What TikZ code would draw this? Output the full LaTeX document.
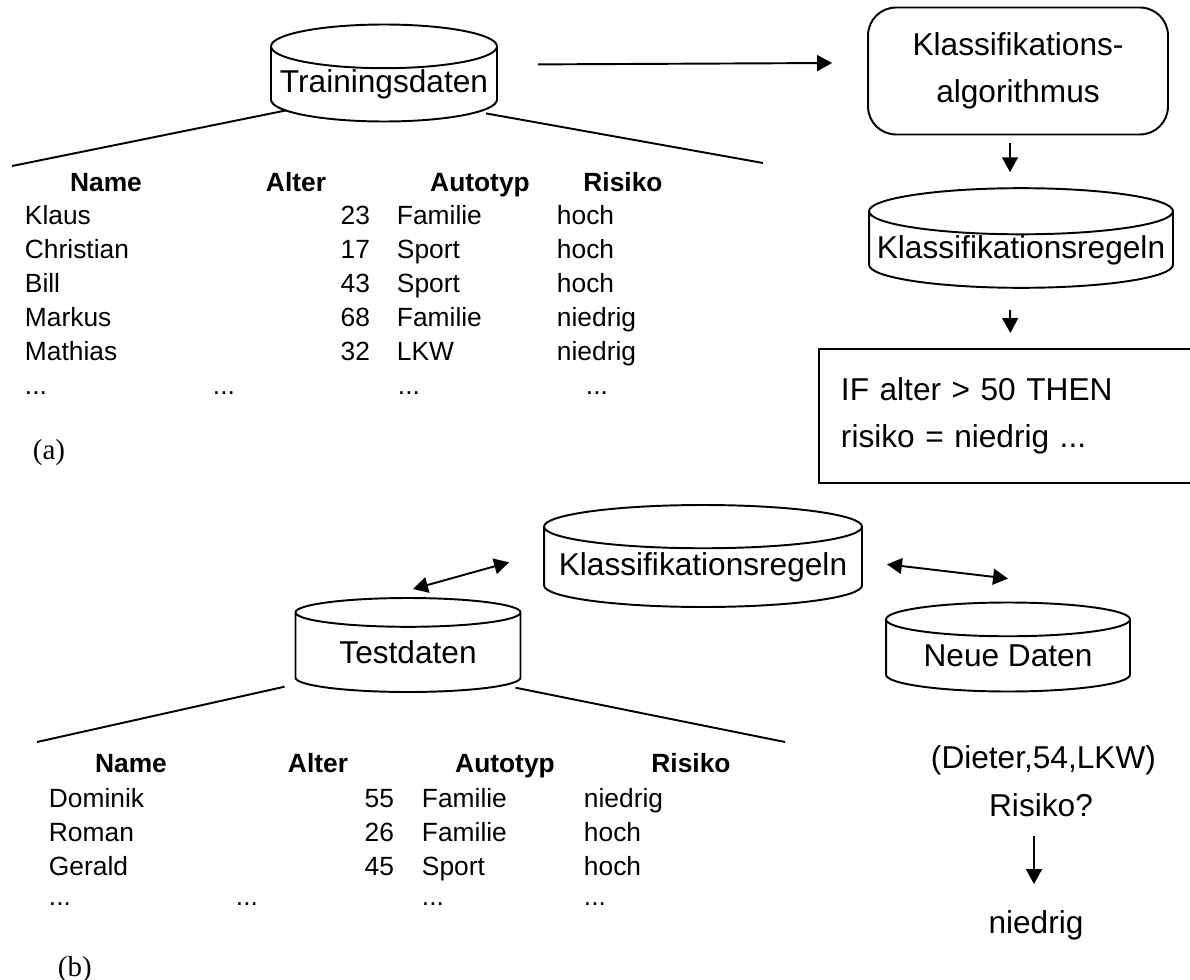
\documentclass[tikz,border=0pt]{standalone}
\usepackage{fontspec}
\setmainfont{Liberation Sans}
\newfontfamily\labelfont{Liberation Serif}
\usetikzlibrary{shapes.geometric,arrows.meta}

\newcommand\bigtext{\fontsize{18}{26.7}\selectfont}
\newcommand\tabtext{\fontsize{15}{19}\selectfont}

\begin{document}
\begin{tikzpicture}[x=0.02cm,y=-0.02cm,line width=1.1pt]
\tikzset{
  every node/.style={inner sep=0pt},
  db/.style={cylinder,shape border rotate=90,draw,font=\bigtext},
  cell/.style={font=\tabtext},
  head/.style={font=\tabtext\bfseries,anchor=base},
  arr/.style={-{Triangle[length=8.5pt,width=9pt]}},
  dbl/.style={{Triangle[length=8.5pt,width=9pt]}-{Triangle[length=8.5pt,width=9pt]}}
}
\useasboundingbox (0,0) rectangle (1190,980);

% (a) Lernphase
\node[db,anchor=shape center,minimum width=4.52cm,minimum height=1.94cm,aspect=0.21] (train) at (384,73) {Trainingsdaten};
\node[draw,rounded corners=0.56cm,minimum width=6cm,minimum height=2.54cm,align=center,font=\bigtext] (algo) at (1018,71) {Klassifikations-\\algorithmus};
\node[db,anchor=shape center,minimum width=6.08cm,minimum height=1.86cm,aspect=0.16] (rules) at (1021,238) {Klassifikationsregeln};
\node[anchor=north west,minimum width=7.62cm,minimum height=2.64cm,inner xsep=0.42cm,text width=6.78cm,align=left,font=\bigtext] (ifbox) at (819,349) {IF alter > 50 THEN\\risiko = niedrig ...};
\draw (ifbox.north east) -- (ifbox.north west) -- (ifbox.south west) -- (ifbox.south east);

\draw[arr] ([shift={(40,-20)}]train.east) -- ([shift={(-35,-8)}]algo.west);
\draw[arr] ([shift={(-8,8)}]algo.south) -- ([shift={(-11,-15)}]rules.north);
\draw[arr] ([shift={(-11,21)}]rules.south) -- ([shift={(0,-16)}]ifbox.north);

\coordinate (ta-left) at (12,166);
\coordinate (ta-right) at (763,163);
\draw ([shift={(16,26)}]train.west) -- (ta-left);
\draw ([shift={(-12,29)}]train.east) -- (ta-right);

\node[head] (ta-h1) at (106,192) {Name};
\node[head] (ta-h2) at (296,192) {Alter};
\node[head] (ta-h3) at (480,192) {Autotyp};
\node[head] (ta-h4) at (623,192) {Risiko};
\foreach \nm/\ag/\ty/\rk [count=\i] in {Klaus/23/Familie/hoch,Christian/17/Sport/hoch,Bill/43/Sport/hoch,Markus/68/Familie/niedrig,Mathias/32/LKW/niedrig}{
  \node[cell,anchor=base west] (ta-name-\i) at (24,190+34*\i) {\nm};
  \node[cell,anchor=base east] (ta-age-\i) at (371,190+34*\i) {\ag};
  \node[cell,anchor=base west] (ta-type-\i) at (396,190+34*\i) {\ty};
  \node[cell,anchor=base west] (ta-risk-\i) at (556,190+34*\i) {\rk};
}
\foreach \x [count=\j] in {24,212,397,585}
  \node[cell,anchor=base west] (ta-dots-\j) at (\x,394) {...};
\node[font=\labelfont\fontsize{16.5}{20}\selectfont,anchor=base west] (lab-a) at (32,459) {(a)};

% (b) Test und Anwendung
\node[db,anchor=shape center,minimum width=6.36cm,minimum height=2.04cm,aspect=0.15] (rules2) at (703,556) {Klassifikationsregeln};
\node[db,anchor=shape center,minimum width=4.5cm,minimum height=1.88cm,aspect=0.21] (test) at (408,645) {Testdaten};
\node[db,anchor=shape center,minimum width=4.88cm,minimum height=1.78cm,aspect=0.2] (new) at (1008,647) {Neue Daten};

\draw[dbl] ([shift={(5,-8)}]test.north) -- ([shift={(-34,-5)}]rules2.west);
\draw[dbl] ([shift={(24,-3)}]rules2.east) -- ([shift={(0,-23)}]new.north);

\coordinate (tb-left) at (37,742);
\coordinate (tb-right) at (785,742);
\draw ([shift={(-10,34)}]test.west) -- (tb-left);
\draw ([shift={(-6,35)}]test.east) -- (tb-right);

\node[head] (tb-h1) at (131,772) {Name};
\node[head] (tb-h2) at (318,772) {Alter};
\node[head] (tb-h3) at (505,772) {Autotyp};
\node[head] (tb-h4) at (691,772) {Risiko};
\foreach \nm/\ag/\ty/\rk [count=\i] in {Dominik/55/Familie/niedrig,Roman/26/Familie/hoch,Gerald/45/Sport/hoch}{
  \node[cell,anchor=base west] (tb-name-\i) at (48,773+34*\i) {\nm};
  \node[cell,anchor=base east] (tb-age-\i) at (395,773+34*\i) {\ag};
  \node[cell,anchor=base west] (tb-type-\i) at (421,773+34*\i) {\ty};
  \node[cell,anchor=base west] (tb-risk-\i) at (583,773+34*\i) {\rk};
}
\foreach \x [count=\j] in {48,235,421,583}
  \node[cell,anchor=base west] (tb-dots-\j) at (\x,905) {...};
\node[font=\labelfont\fontsize{16.5}{20}\selectfont,anchor=base west] (lab-b) at (57,976) {(b)};

\node[font=\bigtext,anchor=base west] (query) at (930,768) {(Dieter,54,LKW)};
\node[font=\bigtext,anchor=base] (ask) at (1041,816) {Risiko?};
\node[font=\bigtext,anchor=base] (answer) at (1036,933) {niedrig};
\draw[arr] ([shift={(-7,19)}]ask.south) -- ([shift={(-2,-25)}]answer.north);
\end{tikzpicture}
\end{document}
